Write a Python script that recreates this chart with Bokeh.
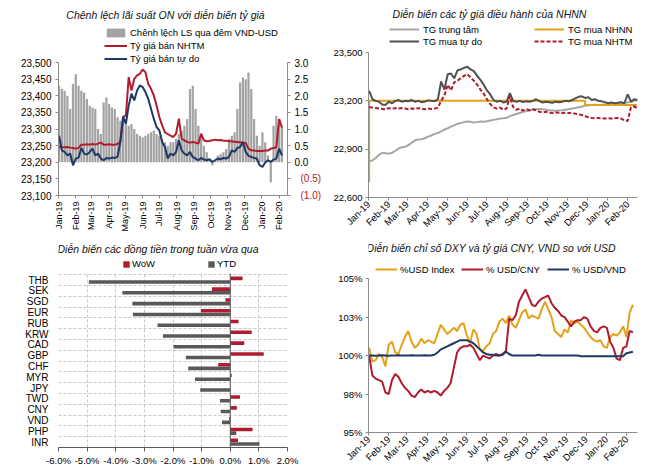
import pandas as pd
from math import pi
from bokeh.plotting import figure
from bokeh.layouts import row, column
from bokeh.models import (Range1d, LinearAxis, FixedTicker, NumeralTickFormatter, CustomJSTickFormatter,
                          Legend, LegendItem, Label, Span, BoxAnnotation, ColumnDataSource)
from bokeh.transform import dodge
from bokeh.embed import file_html
from bokeh.resources import INLINE

# ---------------- DATA ----------------
P1_START = "2019-01-02"
ON_SPREAD = [2.3, 2.2, 2.15, 2.0, 1.6, 2.35, 2.65, 2.3, 2.15, 2.1,
             1.9, 1.7, 1.65, 1.6, 1.0, 0.85, 1.8, 1.95, 1.75, 1.65,
             1.6, 1.35, 1.25, 1.4, 1.3, 1.1, 1.15, 1.0, 0.85, 0.8,
             0.75, 0.8, 0.85, 0.9, 0.95, 0.85, 0.8, 0.7, 0.6, 0.5,
             0.6, 0.6, 0.7, 0.85, 0.95, 1.1, 1.3, 2.2, 2.3, 1.6,
             1.1, 0.8, 0.5, 0.3, 0.1, -0.1, 0.05, 0.2, 0.25, 0.3,
             0.4, 0.7, 0.8, 0.9, 1.6, 2.4, 2.55, 2.5, 2.7, 2.2,
             1.3, 0.8, 0.5, 0.9, 0.6, 0.2, -0.6, 1.1, 1.4, 1.3,
             1.1]
SELL_NHTM = [23246, 23245, 23245, 23246, 23244, 23243, 23241, 23243, 23253, 23253,
             23254, 23253, 23255, 23253, 23256, 23259, 23253, 23253, 23254, 23253,
             23253, 23255, 23262, 23336, 23341, 23456, 23416, 23451, 23461, 23466,
             23479, 23471, 23436, 23421, 23401, 23371, 23336, 23311, 23290, 23285,
             23280, 23276, 23286, 23331, 23271, 23266, 23261, 23259, 23261, 23259,
             23256, 23286, 23266, 23263, 23264, 23266, 23268, 23266, 23267, 23265,
             23265, 23263, 23263, 23262, 23261, 23260, 23259, 23258, 23241, 23236,
             23235, 23234, 23234, 23234, 23235, 23235, 23241, 23243, 23245, 23330,
             23305]
SELL_FREE = [23280, 23236, 23231, 23221, 23226, 23191, 23211, 23214, 23243, 23226,
             23223, 23231, 23241, 23221, 23226, 23211, 23206, 23213, 23211, 23214,
             23213, 23216, 23261, 23336, 23316, 23371, 23406, 23386, 23416, 23431,
             23426, 23411, 23391, 23361, 23331, 23306, 23296, 23261, 23246, 23211,
             23226, 23221, 23231, 23266, 23236, 23226, 23221, 23231, 23216, 23211,
             23206, 23213, 23208, 23206, 23209, 23201, 23206, 23211, 23209, 23213,
             23211, 23216, 23236, 23231, 23243, 23246, 23261, 23231, 23219, 23216,
             23213, 23211, 23191, 23186, 23199, 23206, 23201, 23208, 23211, 23241,
             23221]
P1_LEFT_TICKS = [23100, 23150, 23200, 23250, 23300, 23350, 23400, 23450, 23500]
P1_RIGHT_TICKS = [-1.0, -0.5, 0.0, 0.5, 1.0, 1.5, 2.0, 2.5, 3.0]

P2_START = "2019-01-02"
CENTRAL = [22825, 22830, 22845, 22865, 22878, 22875, 22872, 22878, 22890, 22905,
           22912, 22915, 22925, 22940, 22955, 22960, 22962, 22968, 22978, 22985,
           22995, 23000, 23010, 23022, 23030, 23040, 23048, 23058, 23062, 23068,
           23072, 23070, 23066, 23068, 23072, 23070, 23074, 23078, 23082, 23086,
           23090, 23092, 23095, 23105, 23112, 23118, 23125, 23132, 23136, 23140,
           23145, 23148, 23150, 23148, 23145, 23142, 23140, 23138, 23140, 23142,
           23145, 23148, 23152, 23156, 23160, 23164, 23170, 23172, 23175, 23176,
           23175, 23176, 23178, 23180, 23178, 23176, 23178, 23182, 23186, 23190,
           23195, 23200, 23205]
BUY_FREE = [23262, 23210, 23200, 23195, 23178, 23175, 23195, 23185, 23200, 23205,
            23195, 23200, 23198, 23205, 23195, 23200, 23192, 23195, 23203, 23200,
            23198, 23210, 23320, 23270, 23365, 23370, 23340, 23390, 23395, 23405,
            23412, 23395, 23385, 23355, 23330, 23300, 23265, 23240, 23205, 23195,
            23200, 23190, 23195, 23248, 23200, 23195, 23200, 23192, 23198, 23195,
            23200, 23210, 23198, 23190, 23195, 23192, 23188, 23195, 23192, 23195,
            23200, 23198, 23205, 23215, 23225, 23228, 23218, 23222, 23205, 23210,
            23200, 23198, 23192, 23185, 23190, 23185, 23188, 23192, 23185, 23240,
            23195, 23210, 23205]
BUY_NHTM = [23162, 23158, 23155, 23152, 23150, 23148, 23155, 23150, 23155, 23152,
            23155, 23152, 23148, 23152, 23150, 23155, 23150, 23148, 23152, 23150,
            23152, 23158, 23200, 23235, 23300, 23265, 23315, 23325, 23340, 23355,
            23365, 23345, 23325, 23300, 23270, 23245, 23210, 23180, 23160, 23152,
            23158, 23145, 23152, 23230, 23162, 23145, 23152, 23140, 23148, 23142,
            23148, 23142, 23132, 23128, 23132, 23126, 23124, 23128, 23126, 23124,
            23126, 23124, 23126, 23120, 23116, 23112, 23104, 23098, 23094, 23092,
            23094, 23092, 23090, 23092, 23090, 23092, 23094, 23090, 23080, 23075,
            23160, 23165, 23155]
SBV_BUY_DATES = ["2019-01-01", "2019-01-02", "2019-11-28", "2020-02-15"]
SBV_BUY = [22700, 23200, 23175, 23175]
P2_TICKS = [22600, 22900, 23200, 23500]

CURRENCIES = ["THB", "SEK", "SGD", "EUR", "RUB", "KRW", "CAD", "GBP",
              "CHF", "MYR", "JPY", "TWD", "CNY", "VND", "PHP", "INR"]
WOW = [0.43, -0.64, -0.17, -1.03, 0.29, 0.75, 0.49, 1.17, -0.42, 0.05, 0.0, 0.34, 0.23, -0.04, 0.78, 0.27]
YTD = [-4.94, -3.77, -3.42, -3.40, -2.54, -2.35, -1.98, -1.55, -1.47, -1.23, -1.05, -0.36, -0.33, -0.29, 0.21, 1.02]
P3_TICKS = [-6, -5, -4, -3, -2, -1, 0, 1, 2]

P4_START = "2019-01-02"
USD_INDEX = [100.5, 99.6, 99.7, 100.1, 99.9, 99.3, 100.7, 100.9, 100.2, 100.1,
             100.7, 101.2, 101.6, 100.9, 100.5, 100.7, 101.1, 100.8, 101.0, 100.9,
             100.8, 101.4, 102.0, 101.7, 101.4, 101.6, 101.8, 101.6, 102.0, 102.1,
             101.3, 100.8, 101.7, 101.4, 100.4, 100.3, 100.6, 100.8, 101.4, 101.6,
             102.2, 102.4, 102.1, 102.6, 102.0, 101.8, 102.3, 102.8, 103.0, 102.4,
             102.6, 102.5, 102.4, 103.0, 103.5, 103.0, 102.5, 101.6, 101.4, 101.2,
             101.7, 101.5, 102.3, 102.1, 102.2, 102.0, 101.8, 101.5, 101.2, 101.0,
             100.9, 101.0, 100.6, 100.5, 101.2, 101.4, 101.3, 101.5, 101.9, 101.2,
             102.8, 103.3]
USD_CNY = [100.0, 98.7, 98.5, 98.4, 98.3, 97.6, 97.5, 98.4, 98.8, 98.6,
           98.2, 97.9, 97.7, 97.4, 97.3, 97.6, 97.8, 97.6, 97.7, 97.6,
           97.7, 97.6, 97.4, 97.7, 97.9, 98.2, 99.2, 100.2, 100.5, 100.6,
           100.6, 100.7, 100.5, 100.1, 99.7, 100.0, 99.9, 99.8, 100.0, 100.1,
           100.0, 100.1, 100.3, 102.4, 102.3, 102.6, 103.5, 103.9, 104.3, 103.8,
           103.3, 103.2, 103.5, 103.7, 103.8, 103.9, 103.4, 103.1, 102.9, 102.6,
           102.5, 102.2, 101.9, 102.2, 102.3, 102.3, 102.5, 102.4, 101.9, 101.6,
           101.5, 101.8, 101.9, 101.8, 100.9, 100.5, 99.8, 99.7, 100.5, 100.6,
           101.6, 101.5]
USD_VND = [100.0, 100.0, 99.98, 100.0, 100.02, 100.0, 99.98, 100.0, 100.0, 100.02,
           100.0, 100.0, 100.0, 100.02, 100.0, 100.0, 100.0, 100.02, 100.0, 100.0,
           100.05, 100.2, 100.4, 100.5, 100.6, 100.7, 100.8, 100.9, 101.0, 101.0,
           101.0, 100.9, 100.8, 100.6, 100.4, 100.2, 100.1, 100.05, 100.05, 100.0,
           100.0, 100.05, 100.25, 100.1, 100.0, 100.0, 100.0, 100.0, 100.0, 100.0,
           100.0, 100.0, 100.05, 100.0, 100.0, 100.0, 100.0, 100.0, 100.0, 100.0,
           100.0, 100.0, 100.0, 100.0, 100.0, 99.95, 99.95, 99.95, 99.95, 99.95,
           99.95, 99.95, 99.95, 99.95, 99.95, 99.95, 99.95, 99.95, 99.95, 100.15,
           100.2, 100.25]
P4_TICKS = [95, 97.5, 100, 102.5, 105]

MONTHS = pd.date_range("2019-01-01", "2020-02-01", freq="MS")

# ---------------- STYLE ----------------
FONT = "Liberation Sans"
RED = "#b01c2e"
NAVY = "#1f3864"
BARGRAY = "#a3a3a3"
LGRAY = "#a6a6a6"
DGRAY = "#505050"
YTDGRAY = "#595959"
GOLD = "#e3a21a"
AXGRAY = "#8c8c8c"
TXT = "#000000"
TOP = 2  # frame top offset in each figure; the frame also hosts title and legend

X0 = pd.Timestamp("2019-01-01")
MONTH_TICKS = (MONTHS.astype("int64") // 10**6).tolist()
MONTH_FMT = CustomJSTickFormatter(code="""
const m = ["Jan","Feb","Mar","Apr","May","Jun","Jul","Aug","Sep","Oct","Nov","Dec"];
const d = new Date(tick);
return m[d.getUTCMonth()] + "-" + String(d.getUTCFullYear()).slice(2);
""")


def dates(start, n):
    return pd.date_range(start, periods=n, freq="5D")


def extend(lo, hi, px_lo, px_hi, px_top):
    """Return the range top so that [lo, hi] sits at pixel rows [px_lo, px_hi] and the frame reaches px_top."""
    return lo + (px_lo - px_top) * (hi - lo) / (px_lo - px_hi)


def make_fig(xr, yr, ml, mr, mb, xtype="linear"):
    p = figure(width=330, height=235, x_range=xr, y_range=yr, x_axis_type=xtype, title=None,
               output_backend="svg", toolbar_location=None,
               min_border_left=ml, min_border_right=mr, min_border_top=TOP, min_border_bottom=mb)
    p.outline_line_color = None
    p.xgrid.visible = False
    p.ygrid.visible = False
    return p


def style_axis(ax, size="9.5px", color=AXGRAY, tick_out=3):
    ax.axis_line_color = color
    ax.major_tick_line_color = color
    ax.major_tick_out = tick_out
    ax.major_tick_in = 0
    ax.minor_tick_line_color = None
    ax.major_label_text_font = FONT
    ax.major_label_text_font_size = size
    ax.major_label_text_color = TXT


def add_title(p, text, x, y):
    p.add_layout(Label(x=x, y=y, x_units="screen", y_units="screen", text=text,
                       text_align="center", text_baseline="middle", text_font=FONT,
                       text_font_style="italic", text_font_size="10.5px", text_color="#111111"))


def legend(items, x, y, orientation="vertical", gw=23, gh=11, lh=11, spacing=2, standoff=3, lw=20):
    return Legend(items=items, location=(x, y), orientation=orientation,
                  border_line_color=None, background_fill_alpha=0, padding=0, margin=0,
                  spacing=spacing, glyph_width=gw, glyph_height=gh, label_height=lh, label_width=lw,
                  label_standoff=standoff, label_text_font=FONT, label_text_font_size="9.5px",
                  label_text_color=TXT)


# ---------------- PANEL 1 ----------------
d1 = dates(P1_START, len(ON_SPREAD))
p1 = make_fig(Range1d(X0, X0 + pd.Timedelta(days=411)),
              Range1d(23100, extend(23100, 23500, 195, 62, TOP)), 51, 33, 40, "datetime")
p1.extra_y_ranges = {"r": Range1d(-1, extend(-1, 3, 195, 62, TOP))}
bars = p1.vbar(x=d1, top=ON_SPREAD, bottom=0, width=5 * 86400000 * 0.8, y_range_name="r",
               fill_color=BARGRAY, line_color=None)
l_red = p1.line(d1, SELL_NHTM, line_color=RED, line_width=2)
l_blue = p1.line(d1, SELL_FREE, line_color=NAVY, line_width=2)
p1.yaxis.ticker = FixedTicker(ticks=P1_LEFT_TICKS)
p1.yaxis.formatter = NumeralTickFormatter(format="0,0")
p1.yaxis.major_label_standoff = 4
p1.yaxis.bounds = (23100, 23500)
style_axis(p1.yaxis[0], "10px")
rax = LinearAxis(y_range_name="r", ticker=FixedTicker(ticks=P1_RIGHT_TICKS), bounds=(-1, 3),
                 formatter=CustomJSTickFormatter(code="return tick < 0 ? '' : tick.toFixed(1);"))
style_axis(rax, "10px")
rax.major_label_standoff = 4
p1.add_layout(rax, "right")
rax_neg = LinearAxis(y_range_name="r", ticker=FixedTicker(ticks=[t for t in P1_RIGHT_TICKS if t < 0]),
                     formatter=CustomJSTickFormatter(code="return '(' + Math.abs(tick).toFixed(1) + ')';"))
style_axis(rax_neg, "10px")
rax_neg.axis_line_color = None
rax_neg.major_tick_line_color = None
rax_neg.major_tick_out = 0
rax_neg.major_label_text_color = RED
rax_neg.major_label_standoff = -11
p1.add_layout(rax_neg, "right")
p1.xaxis.ticker = FixedTicker(ticks=MONTH_TICKS)
p1.xaxis.formatter = MONTH_FMT
p1.xaxis.major_label_orientation = pi / 2
p1.xaxis.major_label_standoff = 3
style_axis(p1.xaxis[0], "9px")
p1.add_layout(legend([LegendItem(label="Chênh lệch LS qua đêm VND-USD", renderers=[bars]),
                      LegendItem(label="Tỷ giá bán NHTM", renderers=[l_red]),
                      LegendItem(label="Tỷ giá bán tự do", renderers=[l_blue])], 46, 131.5))
add_title(p1, "Chênh lệch lãi suất ON với diễn biến tỷ giá", 107, 180.7)

# ---------------- PANEL 2 ----------------
d2 = dates(P2_START, len(CENTRAL))
p2 = make_fig(Range1d(X0, X0 + pd.Timedelta(days=411)),
              Range1d(22600, extend(22600, 23500, 198, 52.3, TOP)), 37, 7, 37, "datetime")
c_central = p2.line(d2, CENTRAL, line_color=LGRAY, line_width=2)
c_sbv = p2.step(pd.to_datetime(SBV_BUY_DATES), SBV_BUY, mode="after", line_color=GOLD, line_width=2)
c_free = p2.line(d2, BUY_FREE, line_color=DGRAY, line_width=2)
c_nhtm = p2.line(d2, BUY_NHTM, line_color=RED, line_width=2, line_dash="4 2")
p2.yaxis.ticker = FixedTicker(ticks=P2_TICKS)
p2.yaxis.formatter = NumeralTickFormatter(format="0,0")
p2.yaxis.major_label_standoff = 3
p2.yaxis.bounds = (22600, 23500)
style_axis(p2.yaxis[0], "9.5px")
p2.xaxis.ticker = FixedTicker(ticks=MONTH_TICKS)
p2.xaxis.formatter = MONTH_FMT
p2.xaxis.major_label_orientation = pi / 4
p2.xaxis.major_label_standoff = 2
style_axis(p2.xaxis[0], "9.5px")
p2.add_layout(legend([LegendItem(label="TG trung tâm", renderers=[c_central]),
                      LegendItem(label="TG mua tự do", renderers=[c_free])], 21, 150.2,
                     gw=30, gh=10, lh=10, spacing=1, standoff=4))
p2.add_layout(legend([LegendItem(label="TG mua NHNN", renderers=[c_sbv]),
                      LegendItem(label="TG mua NHTM", renderers=[c_nhtm])], 166, 150.2,
                     gw=30, gh=10, lh=10, spacing=1, standoff=4))
add_title(p2, "Diễn biến các tỷ giá điều hành của NHNN", 121, 184)

# ---------------- PANEL 3 ----------------
pos = list(range(len(CURRENCIES)))[::-1]   # THB on top
src3 = ColumnDataSource(dict(pos=pos, cur=CURRENCIES, wow=WOW, ytd=YTD))
n3 = len(CURRENCIES)
p3 = make_fig(Range1d(-6, 2), Range1d(-0.5, extend(-0.5, n3 - 0.5, 212, 39.3, TOP)), 58, 43, 23)
p3.xgrid.visible = True
p3.xgrid.ticker = FixedTicker(ticks=P3_TICKS)
p3.xgrid.grid_line_color = "#c8c8c8"
p3.xgrid.grid_line_dash = "3 2"
p3.ygrid.visible = True
p3.ygrid.ticker = FixedTicker(ticks=[k - 0.5 for k in range(n3 + 1)])
p3.ygrid.grid_line_color = "#c8c8c8"
p3.ygrid.grid_line_dash = "3 2"
r_wow = p3.hbar(y=dodge("pos", 0.17), left=0, right="wow", height=0.33,
                source=src3, fill_color=RED, line_color=None)
r_ytd = p3.hbar(y=dodge("pos", -0.17), left=0, right="ytd", height=0.33,
                source=src3, fill_color=YTDGRAY, line_color=None)
p3.xaxis.ticker = FixedTicker(ticks=P3_TICKS)
p3.xaxis.formatter = CustomJSTickFormatter(code="return tick.toFixed(1) + '%';")
p3.xaxis.major_label_standoff = 3
style_axis(p3.xaxis[0], "9.5px", color=YTDGRAY, tick_out=4)
p3.yaxis.ticker = FixedTicker(ticks=pos)
p3.yaxis.formatter = CustomJSTickFormatter(args=dict(names=CURRENCIES[::-1]),
                                           code="return names[Math.round(tick)] || '';")
style_axis(p3.yaxis[0], "10px")
p3.yaxis.axis_line_color = None
p3.yaxis.major_tick_line_color = None
p3.yaxis.major_label_standoff = 7
p3.add_layout(Span(location=0, dimension="height", line_color=YTDGRAY, line_width=1))
p3.add_layout(BoxAnnotation(bottom=n3 - 0.5 + 0.1, fill_color="white", fill_alpha=1.0, line_alpha=0))
p3.add_layout(legend([LegendItem(label="WoW", renderers=[r_wow]),
                      LegendItem(label="YTD", renderers=[r_ytd])], 64, 177.7, orientation="horizontal",
                     gw=8, gh=8, lh=10, spacing=5, standoff=2, lw=70))
add_title(p3, "Diễn biến các đồng tiền trong tuần vừa qua", 99.5, 198.7)

# ---------------- PANEL 4 ----------------
d4 = dates(P4_START, len(USD_INDEX))
p4 = make_fig(Range1d(X0, X0 + pd.Timedelta(days=413)),
              Range1d(95, extend(95, 105, 198, 43.3, TOP)), 35, 23, 37, "datetime")
g_dxy = p4.line(d4, USD_INDEX, line_color=GOLD, line_width=2)
g_cny = p4.line(d4, USD_CNY, line_color=RED, line_width=2)
g_vnd = p4.line(d4, USD_VND, line_color=NAVY, line_width=2)
p4.yaxis.ticker = FixedTicker(ticks=P4_TICKS)
p4.yaxis.formatter = CustomJSTickFormatter(code="return Math.round(tick) + '%';")
p4.yaxis.major_label_standoff = 3
p4.yaxis.bounds = (95, 105)
style_axis(p4.yaxis[0], "9.5px")
p4.xaxis.ticker = FixedTicker(ticks=MONTH_TICKS)
p4.xaxis.formatter = MONTH_FMT
p4.xaxis.major_label_orientation = pi / 4
p4.xaxis.major_label_standoff = 2
style_axis(p4.xaxis[0], "9.5px")
p4.add_layout(legend([LegendItem(label="%USD Index", renderers=[g_dxy]),
                      LegendItem(label="% USD/CNY", renderers=[g_cny]),
                      LegendItem(label="% USD/VND", renderers=[g_vnd])], 7, 157.3, orientation="horizontal",
                     gw=22, gh=10, lh=10, spacing=5, standoff=3, lw=56))
add_title(p4, "Diễn biến chỉ số DXY và tỷ giá CNY, VND so với USD", 122.7, 184.7)

layout = row(column(p1, p3), column(p2, p4))
open("out.html", "w").write(file_html(layout, INLINE))
